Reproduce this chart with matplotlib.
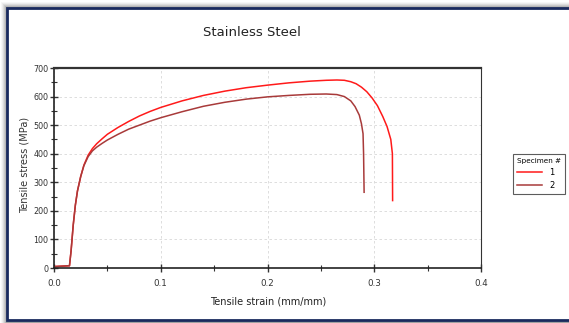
import matplotlib
matplotlib.use("Agg")
import matplotlib.pyplot as plt
from matplotlib.patches import Rectangle
from matplotlib.ticker import MultipleLocator, FormatStrFormatter

# Specimen 1 (red)
strain_1 = [0.0, 0.005, 0.010, 0.0145, 0.016, 0.018, 0.020, 0.022, 0.025, 0.028, 0.032, 0.036, 0.040,
            0.045, 0.050, 0.060, 0.070, 0.080, 0.090, 0.100, 0.120, 0.140, 0.160, 0.180, 0.200,
            0.220, 0.240, 0.255, 0.265, 0.272, 0.278, 0.283, 0.288, 0.293, 0.298, 0.303, 0.308,
            0.312, 0.3155, 0.317, 0.3172]
stress_1 = [5, 6, 7, 8, 60, 150, 220, 270, 320, 360, 395, 418, 435,
            452, 468, 492, 513, 532, 548, 562, 585, 604, 619, 631, 640,
            648, 654, 657, 658, 657, 652, 645, 633, 617, 595, 568, 530,
            495, 450, 400, 236]

# Specimen 2 (dark red)
strain_2 = [0.0, 0.005, 0.010, 0.0145, 0.016, 0.018, 0.020, 0.022, 0.025, 0.028, 0.032, 0.036, 0.040,
            0.045, 0.050, 0.060, 0.070, 0.080, 0.090, 0.100, 0.120, 0.140, 0.160, 0.180, 0.200,
            0.220, 0.240, 0.255, 0.265, 0.272, 0.278, 0.282, 0.286, 0.288, 0.2895, 0.290, 0.2905]
stress_2 = [5, 6, 7, 8, 60, 150, 220, 270, 320, 358, 390, 410, 423,
            436, 448, 468, 486, 500, 514, 526, 547, 566, 580, 591, 599,
            604, 608, 609, 607, 600, 585, 565, 535, 505, 470, 400, 265]

labels = ["1", "2"]
colors = ["#ff1a1a", "#a83a3a"]

xticks = [0.0, 0.1, 0.2, 0.3, 0.4]
yticks = [0, 100, 200, 300, 400, 500, 600, 700]

W, H = 569, 323
fig = plt.figure(figsize=(W / 100, H / 100), dpi=100)
fig.patch.set_facecolor("white")

# frame with shadow
for i, a in enumerate([0.05, 0.08, 0.12, 0.16, 0.22, 0.28]):
    off = 6 - i
    fig.patches.append(Rectangle(((7 - off) / W, 0), 1, (323 - 8 + off) / H, transform=fig.transFigure,
                                 facecolor="#707070", alpha=a, edgecolor="none", zorder=-20))
fig.patches.append(Rectangle((7 / W, 3 / H), 1, (323 - 8 - 3) / H, transform=fig.transFigure,
                             facecolor="white", edgecolor="#1a2a5e", linewidth=2.0, zorder=-10))

ax = fig.add_axes([54 / W, (323 - 268) / H, 427 / W, 200 / H])
ax.set_zorder(5)
ax.set_facecolor("white")
ax.plot(strain_1, stress_1, color=colors[0], lw=1.1, label=labels[0])
ax.plot(strain_2, stress_2, color=colors[1], lw=1.1, label=labels[1])

ax.set_xlim(0, 0.4)
ax.set_ylim(0, 700)
ax.set_xticks(xticks)
ax.set_yticks(yticks)
ax.xaxis.set_major_formatter(FormatStrFormatter("%.1f"))
ax.xaxis.set_minor_locator(MultipleLocator(0.05))
ax.yaxis.set_minor_locator(MultipleLocator(50))
ax.grid(True, which="major", color="#d8d8d8", linestyle=(0, (3, 3)), linewidth=0.6)
ax.tick_params(which="major", direction="inout", length=6, width=1, colors="#333333",
               labelcolor="#333333")
ax.tick_params(axis="x", labelsize=6.3, pad=5)
ax.tick_params(axis="y", labelsize=5.8, pad=1)
ax.tick_params(which="minor", direction="inout", length=4, width=0.8, colors="#333333")
for s in ["left", "bottom"]:
    ax.spines[s].set_linewidth(1.2)
    ax.spines[s].set_color("#222222")
ax.spines["top"].set_linewidth(1.6)
ax.spines["top"].set_color("#333333")
ax.spines["right"].set_linewidth(0.8)
ax.spines["right"].set_color("#333333")

fig.text(252 / W, 1 - 33 / H, "Stainless Steel", ha="center", va="center", fontsize=9.5,
         color="#222222")
fig.text(268 / W, 1 - 301 / H, "Tensile strain (mm/mm)", ha="center", va="center", fontsize=7,
         color="#222222")
fig.text(25 / W, 1 - 165 / H, "Tensile stress (MPa)", ha="center", va="center", rotation=90,
         fontsize=7, color="#333333")

leg = ax.legend(loc="center left", bbox_to_anchor=(513 / W, 1 - 174 / H), bbox_transform=fig.transFigure,
                title="Specimen #", fontsize=6, title_fontsize=5.2, frameon=True, fancybox=False,
                handlelength=3.0, handletextpad=0.9, borderpad=0.45, labelspacing=0.5,
                borderaxespad=0, alignment="left")
leg.get_frame().set_edgecolor("#333333")
leg.get_frame().set_linewidth(0.8)

fig.savefig("out.png", dpi=100)
